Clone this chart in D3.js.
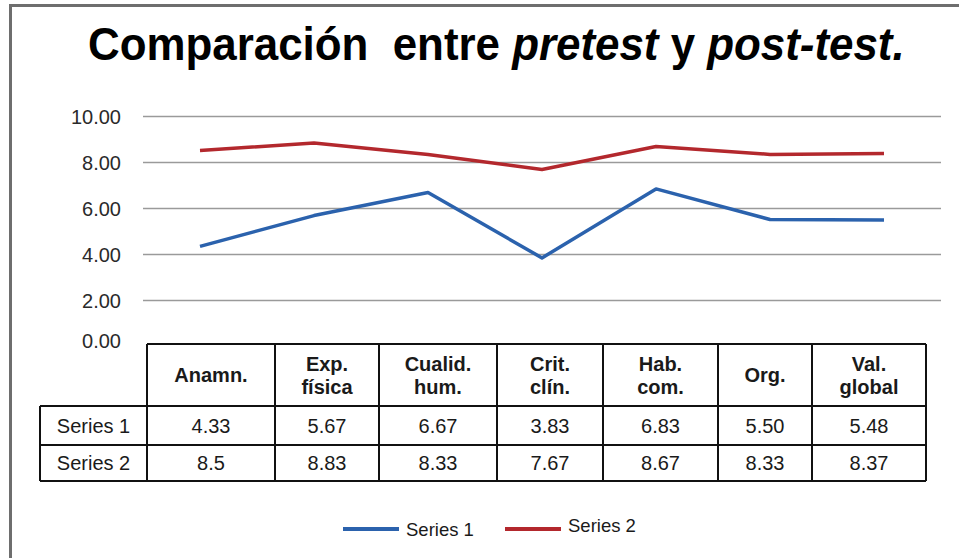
<!DOCTYPE html>
<html>
<head>
<meta charset="utf-8">
<script src="https://cdn.jsdelivr.net/npm/d3@7"></script>
<style>
  body { margin: 0; background: #fff; }
  svg { display: block; font-family: "Liberation Sans", Arial, sans-serif; }
</style>
</head>
<body>
<div id="chart"></div>
<script>
// data
const categories = ["Anamn.", "Exp. física", "Cualid. hum.", "Crit. clín.", "Hab. com.", "Org.", "Val. global"];
const headerLines = [["Anamn."], ["Exp.", "física"], ["Cualid.", "hum."], ["Crit.", "clín."], ["Hab.", "com."], ["Org."], ["Val.", "global"]];
const seriesNames = ["Series 1", "Series 2"];
const series1 = [4.33, 5.67, 6.67, 3.83, 6.83, 5.50, 5.48];
const series2 = [8.5, 8.83, 8.33, 7.67, 8.67, 8.33, 8.37];
const series1Labels = ["4.33", "5.67", "6.67", "3.83", "6.83", "5.50", "5.48"];
const series2Labels = ["8.5", "8.83", "8.33", "7.67", "8.67", "8.33", "8.37"];
const yTicks = [0, 2, 4, 6, 8, 10];

const width = 959, height = 558;
const colors = ["#2b62ad", "#b3282d"];

const svg = d3.select("#chart")
    .append("svg")
    .attr("width", width)
    .attr("height", height);

// outer frame (left and top edges only visible)
svg.append("path")
    .attr("d", `M10.5,${height} V5.5 H${width}`)
    .attr("fill", "none")
    .attr("stroke", "#6e6e6e")
    .attr("stroke-width", 3);

// title, squeezed horizontally like the original
const titleG = svg.append("g");
const title = titleG.append("text")
    .attr("x", 0)
    .attr("y", 0)
    .style("font-size", "46px")
    .style("font-weight", "bold")
    .attr("fill", "#000");
title.append("tspan").text("Comparación\u00a0 entre ");
title.append("tspan").style("font-style", "italic").text("pretest");
title.append("tspan").text(" y ");
title.append("tspan").style("font-style", "italic").text("post-test.");
const titleW = title.node().getComputedTextLength();
titleG.attr("transform", `translate(88,60) scale(${817 / titleW},1)`);

const xScale = d3.scalePoint()
    .domain(categories)
    .range([143, 941])
    .padding(0.5);

const yScale = d3.scaleLinear()
    .domain([0, 10])
    .range([346, 116]);

// y axis with gridlines
svg.append("g")
    .attr("class", "y-axis")
    .attr("transform", "translate(143,0)")
    .call(d3.axisLeft(yScale)
        .tickValues(yTicks)
        .tickFormat(d3.format(".2f"))
        .tickSize(-(941 - 143))
        .tickPadding(22))
    .call(g => g.select(".domain").remove())
    .call(g => g.selectAll(".tick line")
        .attr("stroke", "#9a9a9a")
        .attr("stroke-width", 1.5)
        .attr("display", d => d === 0 ? "none" : null))
    .call(g => g.selectAll(".tick text")
        .attr("fill", "#2a2a2a")
        .attr("dy", d => d === 0 ? "0.05em" : "0.36em")
        .style("font-family", "'Liberation Sans', Arial, sans-serif")
        .style("font-size", "20px"));

// lines
const line = d3.line()
    .x((d, i) => xScale(categories[i]))
    .y(d => yScale(d));

[series1, series2].forEach((s, k) => {
    svg.append("path")
        .datum(s)
        .attr("fill", "none")
        .attr("stroke", colors[k])
        .attr("stroke-width", 3.5)
        .attr("stroke-linejoin", "round")
        .attr("d", line);
});

// data table
const colEdges = [147, 275, 379, 497, 603, 718, 812, 926];
const rowLabelX0 = 40;
const rowEdges = [344, 406, 445, 481];
const table = svg.append("g").attr("class", "table");
const tableStroke = "#111";

// horizontal lines
table.append("line")
    .attr("x1", colEdges[0]).attr("x2", colEdges[7])
    .attr("y1", rowEdges[0]).attr("y2", rowEdges[0]);
[1, 2, 3].forEach(r => {
    table.append("line")
        .attr("x1", rowLabelX0).attr("x2", colEdges[7])
        .attr("y1", rowEdges[r]).attr("y2", rowEdges[r]);
});
// vertical lines
colEdges.forEach(x => {
    table.append("line")
        .attr("x1", x).attr("x2", x)
        .attr("y1", rowEdges[0]).attr("y2", rowEdges[3]);
});
table.append("line")
    .attr("x1", rowLabelX0).attr("x2", rowLabelX0)
    .attr("y1", rowEdges[1]).attr("y2", rowEdges[3]);
table.selectAll("line")
    .attr("stroke", tableStroke)
    .attr("stroke-width", 2);

// header text
headerLines.forEach((lines, i) => {
    const cx = (colEdges[i] + colEdges[i + 1]) / 2;
    const cy = (rowEdges[0] + rowEdges[1]) / 2;
    const t = table.append("text")
        .attr("text-anchor", "middle")
        .attr("x", cx)
        .style("font-size", "20px")
        .style("font-weight", "bold")
        .attr("fill", "#1a1a1a");
    lines.forEach((l, j) => {
        t.append("tspan")
            .attr("x", cx)
            .attr("y", cy + 7 + (j - (lines.length - 1) / 2) * 23)
            .text(l);
    });
});

// value rows
[series1Labels, series2Labels].forEach((vals, r) => {
    const cy = (rowEdges[r + 1] + rowEdges[r + 2]) / 2 + 7;
    table.append("text")
        .attr("x", (rowLabelX0 + colEdges[0]) / 2)
        .attr("y", cy)
        .attr("text-anchor", "middle")
        .style("font-size", "20px")
        .attr("fill", "#1a1a1a")
        .text(seriesNames[r]);
    vals.forEach((v, i) => {
        table.append("text")
            .attr("x", (colEdges[i] + colEdges[i + 1]) / 2)
            .attr("y", cy)
            .attr("text-anchor", "middle")
            .style("font-size", "20px")
            .attr("fill", "#1a1a1a")
            .text(v);
    });
});

// legend
const legendPos = [{ x: 343, y: 529, ty: 536 }, { x: 505, y: 529, ty: 532 }];
seriesNames.forEach((name, k) => {
    const p = legendPos[k];
    svg.append("line")
        .attr("x1", p.x).attr("x2", p.x + 56)
        .attr("y1", p.y).attr("y2", p.y)
        .attr("stroke", colors[k])
        .attr("stroke-width", 4);
    svg.append("text")
        .attr("x", p.x + 63)
        .attr("y", p.ty)
        .style("font-size", "18.5px")
        .attr("fill", "#1a1a1a")
        .text(name);
});
</script>
</body>
</html>
